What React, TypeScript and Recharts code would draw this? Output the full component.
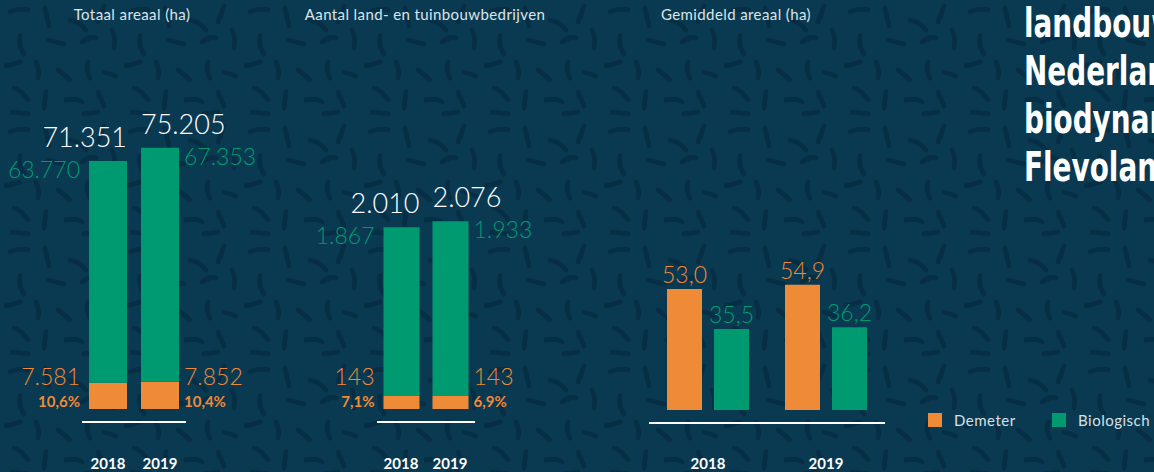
import React from "react";
import { BarChart, Bar, XAxis, YAxis, LabelList } from "recharts";

// data
const years = ["2018", "2019"];
const areaDemeter = [7581, 7852];
const areaBio = [63770, 67353];
const farmsDemeter = [143, 143];
const farmsBio = [1867, 1933];
const avgDemeter = [53.0, 54.9];
const avgBio = [35.5, 36.2];

const titles = ["Totaal areaal (ha)", "Aantal land- en tuinbouwbedrijven", "Gemiddeld areaal (ha)"];
const headline = ["landbouw", "Nederland", "biodynamisch", "Flevoland"];
const legendNames = ["Demeter", "Biologisch"];

const ORANGE = "#ef8a36";
const GREEN = "#009a70";
const BG = "#0a3a52";
const FONT = "Lato, 'Open Sans', sans-serif";

const toRows = (dem: number[], bio: number[]) =>
  years.map((year, i) => ({ year, demeter: dem[i], bio: bio[i] }));

const areaRows = toRows(areaDemeter, areaBio);
const farmRows = toRows(farmsDemeter, farmsBio);
const avgRows = toRows(avgDemeter, avgBio);

const thousands = (n: number) => String(n).replace(/\B(?=(\d{3})+(?!\d))/g, ".");
const decimal = (n: number) => n.toFixed(1).replace(".", ",");
const pct = (a: number, b: number) => ((a / (a + b)) * 100).toFixed(1).replace(".", ",") + "%";

// squiggle texture for the background
const tile =
  "<svg xmlns='http://www.w3.org/2000/svg' width='120' height='120'>" +
  "<g fill='none' stroke='%23062f45' stroke-width='5' stroke-linecap='round'>" +
  "<path d='M10 12 q8 -4 18 -2'/><path d='M45 8 l4 18'/><path d='M70 20 q10 2 16 10'/>" +
  "<path d='M104 6 l-6 16'/><path d='M112 30 q4 8 2 18'/><path d='M20 36 q-2 10 4 18'/>" +
  "<path d='M48 40 l16 4'/><path d='M82 42 q8 -6 14 -4'/><path d='M6 66 l14 -4'/>" +
  "<path d='M36 62 q4 10 2 16'/><path d='M58 70 l12 10'/><path d='M88 62 q-2 10 2 16'/>" +
  "<path d='M104 72 l12 4'/><path d='M14 88 q10 4 14 12'/><path d='M46 92 l-2 16'/>" +
  "<path d='M66 100 q10 -2 16 2'/><path d='M98 92 l6 14'/><path d='M12 112 l16 2'/>" +
  "<path d='M84 114 l14 -2'/>" +
  "</g></svg>";

const YearTick = ({ x, payload }: any) => (
  <text x={Number(x)} y={469} textAnchor="middle" fill="#ffffff" fontSize={15} fontWeight={700} fontFamily={FONT}>
    {payload.value}
  </text>
);

function StackedPanel({ rows, left, width, plotL, plotR, top, max, barSize }: any) {
  const bioLabel = (props: any) => {
    const x = Number(props.x), y = Number(props.y), w = Number(props.width);
    const i = props.index;
    const r = rows[i];
    const onLeft = i === 0;
    return (
      <g fontFamily={FONT} fontWeight={300}>
        <text x={onLeft ? x + w : x} y={y - 14} textAnchor={onLeft ? "end" : "start"} fill="#ffffff" fontSize={27}>
          {thousands(r.demeter + r.bio)}
        </text>
        <text x={onLeft ? x - 9 : x + w + 5} y={y + 17} textAnchor={onLeft ? "end" : "start"} fill={GREEN} fontSize={23}>
          {thousands(r.bio)}
        </text>
      </g>
    );
  };

  const demLabel = (props: any) => {
    const x = Number(props.x), y = Number(props.y), w = Number(props.width), h = Number(props.height);
    const i = props.index;
    const r = rows[i];
    const onLeft = i === 0;
    const tx = onLeft ? x - 9 : x + w + 5;
    const anchor = onLeft ? "end" : "start";
    return (
      <g fontFamily={FONT} fill={ORANGE}>
        <text x={tx} y={y + h - 24} textAnchor={anchor} fontSize={23} fontWeight={300}>
          {thousands(r.demeter)}
        </text>
        <text x={tx} y={y + h - 2} textAnchor={anchor} fontSize={15} fontWeight={700}>
          {pct(r.demeter, r.bio)}
        </text>
      </g>
    );
  };

  return (
    <div style={{ position: "absolute", left, top: 0 }}>
      <BarChart
        width={width}
        height={472}
        data={rows}
        margin={{ top, left: plotL - left, right: left + width - plotR, bottom: 0 }}
        barCategoryGap={0}
      >
        <XAxis dataKey="year" height={63} axisLine={false} tickLine={false} tick={<YearTick />} interval={0} />
        <YAxis hide width={0} domain={[0, max]} />
        <Bar dataKey="demeter" stackId="s" fill={ORANGE} barSize={barSize} isAnimationActive={false}>
          <LabelList dataKey="demeter" content={demLabel} />
        </Bar>
        <Bar dataKey="bio" stackId="s" fill={GREEN} barSize={barSize} isAnimationActive={false}>
          <LabelList dataKey="bio" content={bioLabel} />
        </Bar>
      </BarChart>
      <div
        style={{
          position: "absolute",
          left: plotL - left,
          top: 421,
          width: plotR - plotL,
          height: 2,
          background: "#ffffff",
        }}
      />
    </div>
  );
}

const topLabel = (color: string) => (props: any) => {
  const x = Number(props.x), y = Number(props.y), w = Number(props.width);
  return (
    <text x={x + w / 2} y={y - 6} textAnchor="middle" fill={color} fontSize={23} fontWeight={300} fontFamily={FONT}>
      {decimal(Number(props.value))}
    </text>
  );
};

function GroupedPanel() {
  const left = 600, width = 320, plotL = 649, plotR = 885;
  return (
    <div style={{ position: "absolute", left, top: 0 }}>
      <BarChart
        width={width}
        height={472}
        data={avgRows}
        margin={{ top: 273, left: plotL - left, right: left + width - plotR, bottom: 0 }}
        barGap={12}
        barCategoryGap={0}
      >
        <XAxis dataKey="year" height={62} axisLine={false} tickLine={false} tick={<YearTick />} interval={0} />
        <YAxis hide width={0} domain={[0, 60]} />
        <Bar dataKey="demeter" fill={ORANGE} barSize={35} isAnimationActive={false}>
          <LabelList dataKey="demeter" content={topLabel(ORANGE)} />
        </Bar>
        <Bar dataKey="bio" fill={GREEN} barSize={35} isAnimationActive={false}>
          <LabelList dataKey="bio" content={topLabel(GREEN)} />
        </Bar>
      </BarChart>
      <div style={{ position: "absolute", left: plotL - left, top: 422, width: plotR - plotL, height: 2, background: "#ffffff" }} />
    </div>
  );
}

const titleCenters = [132, 425, 736];

export default function App() {
  return (
    <div
      style={{
        position: "absolute",
        left: 0,
        top: 0,
        width: 1154,
        height: 472,
        overflow: "hidden",
        backgroundColor: BG,
        backgroundImage: `url("data:image/svg+xml;utf8,${tile}")`,
        fontFamily: FONT,
      }}
    >
      {titles.map((t, i) => (
        <div
          key={t}
          style={{
            position: "absolute",
            left: titleCenters[i] - 150,
            width: 300,
            top: 5,
            textAlign: "center",
            color: "#dce4e9",
            fontSize: 15,
            letterSpacing: 0.4,
            whiteSpace: "nowrap",
          }}
        >
          {t}
        </div>
      ))}

      <StackedPanel rows={areaRows} left={0} width={280} plotL={82} plotR={186} top={131} max={80000} barSize={38} />
      <StackedPanel rows={farmRows} left={290} width={280} plotL={376.5} plotR={474.5} top={183} max={2500} barSize={36} />
      <GroupedPanel />

      {/* legend */}
      <div style={{ position: "absolute", left: 928, top: 411, display: "flex", alignItems: "center", color: "#d6e0e6", fontSize: 15, letterSpacing: 0.5 }}>
        {legendNames.map((n, i) => (
          <div key={n} style={{ display: "flex", alignItems: "center", width: 124 }}>
            <span style={{ width: 14, height: 14, background: i === 0 ? ORANGE : GREEN, marginRight: 12 }} />
            <span>{n}</span>
          </div>
        ))}
      </div>

      {/* headline, cut by the frame as in the source */}
      <div
        style={{
          position: "absolute",
          left: 1024,
          top: -1,
          color: "#ffffff",
          fontFamily: "'DejaVu Sans', sans-serif",
          fontWeight: 700,
          fontSize: 41,
          lineHeight: "48px",
          whiteSpace: "nowrap",
          transform: "scaleX(0.68)",
          transformOrigin: "left top",
        }}
      >
        {headline.map((h) => (
          <div key={h}>{h}</div>
        ))}
      </div>
    </div>
  );
}
